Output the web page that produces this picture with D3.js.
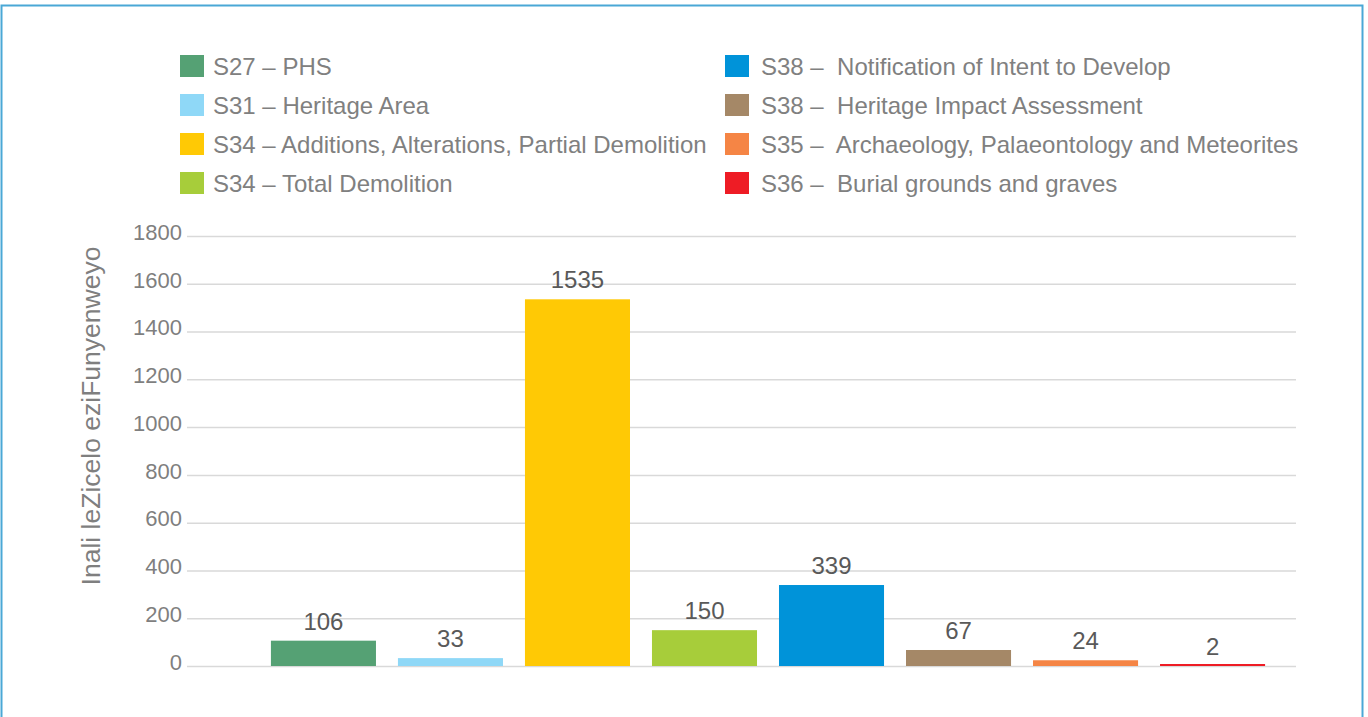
<!DOCTYPE html>
<html>
<head>
<meta charset="utf-8">
<script src="https://cdn.jsdelivr.net/npm/d3@7"></script>
<style>
  html, body { margin: 0; padding: 0; background: #fff; }
  svg { display: block; font-family: "Liberation Sans", Arial, sans-serif; }
</style>
</head>
<body>
<figure id="bar" style="margin:0"></figure>
<script>
// chart data
const categories = ['S27', 'S31', 'S34a', 'S34b', 'S38a', 'S38b', 'S35', 'S36'];
const counts = [106, 33, 1535, 150, 339, 67, 24, 2];
const legendLabels = [
  'S27 – PHS',
  'S31 – Heritage Area',
  'S34 – Additions, Alterations, Partial Demolition',
  'S34 – Total Demolition',
  'S38 –  Notification of Intent to Develop',
  'S38 –  Heritage Impact Assessment',
  'S35 –  Archaeology, Palaeontology and Meteorites',
  'S36 –  Burial grounds and graves'
];
const colors = ['#55a174', '#8fd8f7', '#ffc905', '#a7cd3a', '#0093d9', '#a58867', '#f58545', '#ee1c25'];
const yTicks = [0, 200, 400, 600, 800, 1000, 1200, 1400, 1600, 1800];
const yTitle = 'Inali leZicelo eziFunyenweyo';

const width = 1368;
const height = 717;

const svg = d3.select('figure#bar')
  .append('svg')
  .attr('width', width)
  .attr('height', height);

// frame
svg.append('rect')
  .attr('x', 1.5)
  .attr('y', 5.5)
  .attr('width', 1361)
  .attr('height', 730)
  .attr('fill', 'none')
  .attr('stroke', '#4aa8d6')
  .attr('stroke-width', 2);

// scales
const y = d3.scaleLinear()
  .domain([0, 1800])
  .range([666, 236]);

const x = d3.scaleBand()
  .domain(categories)
  .range([260, 1276])
  .paddingInner(0.173)
  .paddingOuter(0.086);

// gridlines + tick labels
const yAxis = svg.append('g')
  .attr('transform', 'translate(187,0)')
  .call(d3.axisLeft(y).tickValues(yTicks).tickSize(-1109).tickPadding(5).tickFormat(d3.format('d')));

yAxis.select('.domain').remove();
yAxis.selectAll('.tick line')
  .attr('stroke', '#d9d9d9')
  .attr('stroke-width', 1.5);
yAxis.selectAll('.tick text')
  .attr('fill', '#7f7f7f')
  .style('font-size', '22px')
  .attr('dy', '0.15em');

// y title
svg.append('text')
  .attr('transform', 'translate(100,416) rotate(-90)')
  .attr('text-anchor', 'middle')
  .attr('fill', '#7f7f7f')
  .style('font-size', '26.5px')
  .text(yTitle);

// bars (tiny values kept visible as a thin line)
svg.selectAll('rect.bar')
  .data(counts)
  .enter()
  .append('rect')
  .attr('class', 'bar')
  .attr('x', (d, i) => x(categories[i]))
  .attr('y', d => Math.min(y(d), y(0) - 2))
  .attr('width', x.bandwidth())
  .attr('height', d => Math.max(y(0) - y(d), 2))
  .attr('fill', (d, i) => colors[i]);

// value labels
svg.selectAll('text.val')
  .data(counts)
  .enter()
  .append('text')
  .attr('class', 'val')
  .attr('x', (d, i) => x(categories[i]) + x.bandwidth() / 2)
  .attr('y', d => y(d) - 11)
  .attr('text-anchor', 'middle')
  .attr('fill', '#595959')
  .style('font-size', '24px')
  .text(d => d);

// legend (two columns of four)
const legend = svg.selectAll('g.legend')
  .data(legendLabels)
  .enter()
  .append('g')
  .attr('class', 'legend')
  .attr('transform', (d, i) => {
    const col = Math.floor(i / 4);
    const row = i % 4;
    return 'translate(' + (col === 0 ? 180 : 725) + ',' + (55 + row * 39) + ')';
  });

legend.append('rect')
  .attr('width', 24)
  .attr('height', 22)
  .attr('fill', (d, i) => colors[i]);

legend.append('text')
  .attr('x', (d, i) => i < 4 ? 33 : 36)
  .attr('y', 11)
  .attr('dy', '0.36em')
  .attr('fill', '#808080')
  .style('font-size', '24px')
  .style('white-space', 'pre')
  .text(d => d);
</script>
</body>
</html>
